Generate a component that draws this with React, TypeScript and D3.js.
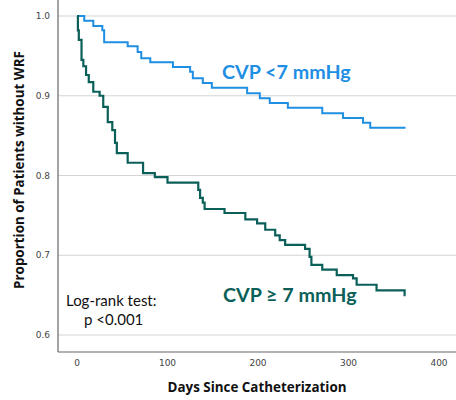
import React, { useEffect, useRef } from "react";
import * as d3 from "d3";

// Kaplan-Meier steps (day of event, survival after it)
const lowDays = [0, 8, 18, 28, 30, 56, 67, 71, 81, 106, 125, 128, 139, 149, 188, 202, 213, 233, 271, 294, 316, 324, 363];
const lowSurv = [1.0, 0.994, 0.9875, 0.982, 0.967, 0.962, 0.955, 0.947, 0.942, 0.936, 0.93, 0.922, 0.916, 0.91, 0.903, 0.897, 0.891, 0.885, 0.878, 0.872, 0.866, 0.86, 0.86];

const highDays = [0, 1, 2, 5, 7, 10, 13, 18, 25, 29, 34, 39, 42, 44, 56, 73, 86, 100, 134, 136, 139, 141, 163, 186, 199, 208, 219, 224, 230, 252, 257, 259, 271, 287, 305, 309, 331, 362, 363];
const highSurv = [1.0, 0.982, 0.97, 0.945, 0.937, 0.926, 0.917, 0.905, 0.9, 0.886, 0.867, 0.857, 0.841, 0.828, 0.816, 0.803, 0.798, 0.791, 0.782, 0.772, 0.766, 0.758, 0.753, 0.745, 0.74, 0.732, 0.725, 0.719, 0.713, 0.708, 0.698, 0.688, 0.682, 0.675, 0.671, 0.663, 0.656, 0.65, 0.65];

const xTicks = [0, 100, 200, 300, 400];
const yTicks = [0.6, 0.7, 0.8, 0.9, 1.0];

const blue = "#1f8fe3";
const green = "#0b5f59";

export default function App() {
    const ref = useRef<SVGSVGElement>(null);

    useEffect(() => {
        const svg = d3.select(ref.current);
        svg.selectAll("*").remove();

        const left = 58, right = 456, top = 0, bottom = 352;

        const x = d3.scaleLinear().domain([0, 400]).range([77, 439]);
        const y = d3.scaleLinear().domain([0.6, 1.0]).range([335, 16]);

        // gridlines
        svg.append("g")
            .selectAll("line")
            .data(yTicks)
            .enter().append("line")
            .attr("x1", left).attr("x2", right)
            .attr("y1", d => y(d)).attr("y2", d => y(d))
            .attr("stroke", "#d4d4d4")
            .attr("stroke-width", 1.2);

        // axes lines
        svg.append("line")
            .attr("x1", left).attr("x2", left)
            .attr("y1", top).attr("y2", bottom)
            .attr("stroke", "#666").attr("stroke-width", 1.2);
        svg.append("line")
            .attr("x1", left).attr("x2", right)
            .attr("y1", bottom).attr("y2", bottom)
            .attr("stroke", "#666").attr("stroke-width", 1.2);

        // tick labels
        svg.append("g")
            .selectAll("text")
            .data(yTicks)
            .enter().append("text")
            .attr("x", 50)
            .attr("y", d => y(d))
            .attr("dy", "0.35em")
            .attr("text-anchor", "end")
            .attr("font-family", "DejaVu Sans")
            .attr("font-size", 9)
            .attr("fill", "#444")
            .text(d => d.toFixed(1));

        svg.append("g")
            .selectAll("text")
            .data(xTicks)
            .enter().append("text")
            .attr("x", d => x(d))
            .attr("y", 366)
            .attr("text-anchor", "middle")
            .attr("font-family", "DejaVu Sans")
            .attr("font-size", 9)
            .attr("fill", "#444")
            .text(d => d);

        // axis titles
        svg.append("text")
            .attr("x", 257).attr("y", 392)
            .attr("text-anchor", "middle")
            .attr("font-family", "Open Sans")
            .attr("font-weight", "bold")
            .attr("font-size", 13.4)
            .attr("fill", "#111")
            .text("Days Since Catheterization");

        svg.append("text")
            .attr("transform", "translate(24,170) rotate(-90)")
            .attr("text-anchor", "middle")
            .attr("font-family", "Open Sans")
            .attr("font-weight", "bold")
            .attr("font-size", 13.4)
            .attr("fill", "#111")
            .text("Proportion of Patients without WRF");

        // curves
        const line = d3.line<number>()
            .x(d => x(d))
            .curve(d3.curveStepAfter);

        svg.append("path")
            .datum(lowDays)
            .attr("fill", "none")
            .attr("stroke", blue)
            .attr("stroke-width", 2)
            .attr("d", line.y((d, i) => y(lowSurv[i])));

        svg.append("path")
            .datum(highDays)
            .attr("fill", "none")
            .attr("stroke", green)
            .attr("stroke-width", 2.2)
            .attr("d", line.y((d, i) => y(highSurv[i])));

        // labels
        svg.append("text")
            .attr("x", 222).attr("y", 79)
            .attr("font-family", "Lato")
            .attr("font-weight", "bold")
            .attr("font-size", 19.7)
            .attr("fill", blue)
            .text("CVP <7 mmHg");

        svg.append("text")
            .attr("x", 223).attr("y", 302)
            .attr("font-family", "Lato")
            .attr("font-weight", "bold")
            .attr("font-size", 19.7)
            .attr("fill", green)
            .text("CVP \u2265 7 mmHg");

        svg.append("text")
            .attr("x", 66).attr("y", 306)
            .attr("font-family", "Lato")
            .attr("font-size", 15)
            .attr("fill", "#111")
            .text("Log-rank test:");
        svg.append("text")
            .attr("x", 84).attr("y", 325)
            .attr("font-family", "Lato")
            .attr("font-size", 15)
            .attr("fill", "#111")
            .text("p <0.001");
    }, []);

    return (
        <svg ref={ref} width={456} height={400}
            style={{ position: "absolute", left: 0, top: 0, background: "#fff" }}></svg>
    );
}
